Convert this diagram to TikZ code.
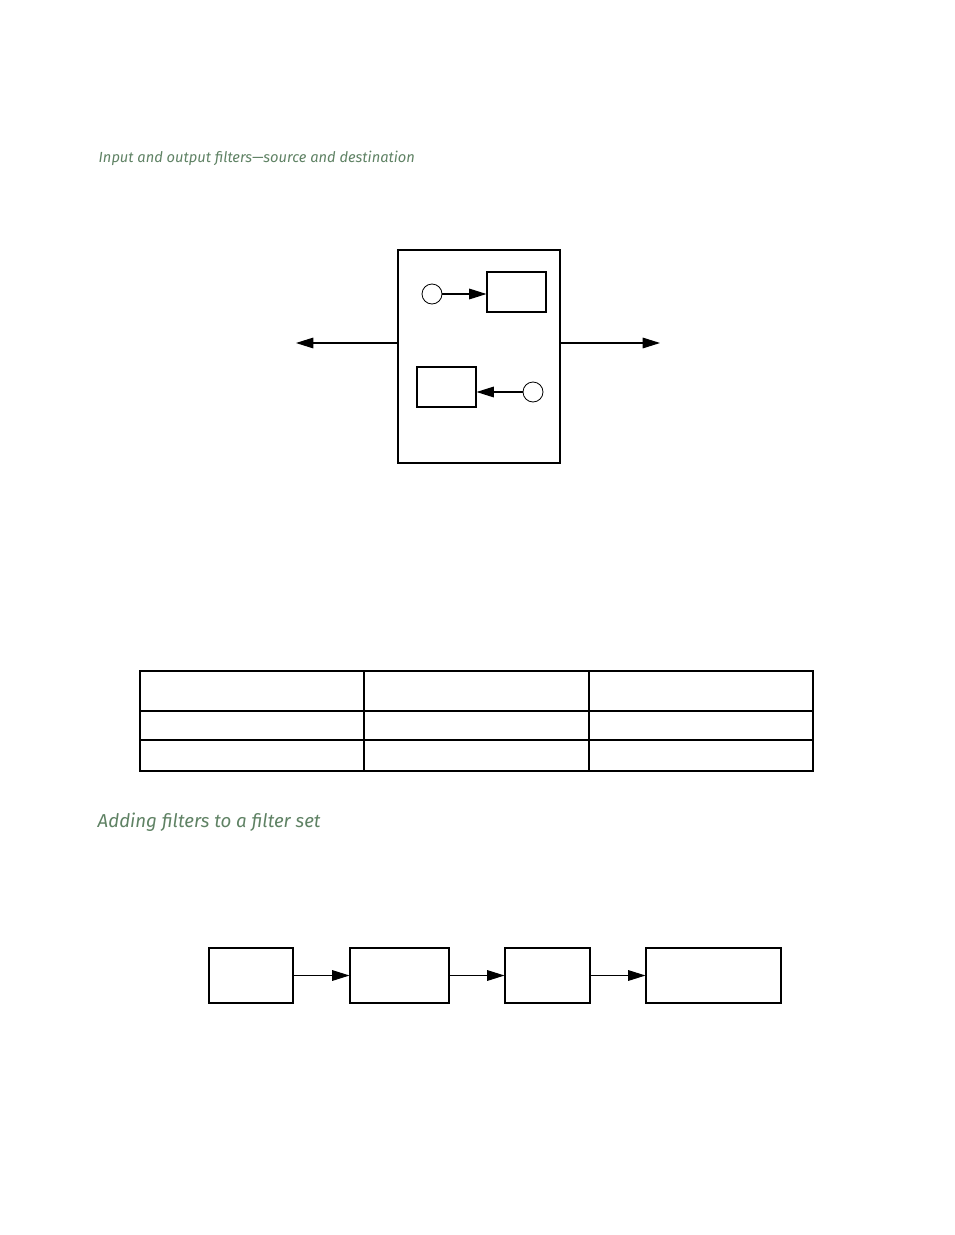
\documentclass[tikz,border=0pt]{standalone}
\usepackage{fontspec}
\setmainfont{Fira Sans}
\usetikzlibrary{arrows.meta}
\definecolor{hd}{RGB}{95,130,100}
\begin{document}
\begin{tikzpicture}[x=0.75pt,y=-0.75pt,
  bx/.style={draw,thick,line width=0.8pt,inner sep=0},
  cir/.style={draw,circle,line width=0.6pt,minimum size=15pt,inner sep=0},
  ar/.style={line width=0.8pt,-{Triangle[length=13pt,width=8pt]}},
  hdtxt/.style={anchor=west,text=hd,font=\itshape}]
\useasboundingbox (0,0) rectangle (954,1235);
\node[hdtxt,font=\itshape\fontsize{11}{13}\selectfont] (h1) at (94,158) {Input and output filters—source and destination};
\node[bx,minimum width=121.5pt,minimum height=159.75pt] (big) at (479,356.5) {};
\node[cir] (c1) at (432,294) {};
\node[bx,minimum width=44.25pt,minimum height=30pt] (b1) at (516.5,292) {};
\draw[ar] (c1) -- (c1 -| b1.west);
\node[bx,minimum width=44.25pt,minimum height=30pt] (b2) at (446.5,387) {};
\node[cir] (c2) at (533,392) {};
\draw[ar] (c2) -- (c2 -| b2.east);
\coordinate (lo) at (296,343);
\coordinate (ro) at (660,343);
\draw[ar] (big.west |- lo) -- (lo);
\draw[ar] (big.east |- ro) -- (ro);
% table
\node[bx,minimum width=504.75pt,minimum height=75pt] (tab) at (476.5,721) {};
\draw[line width=0.8pt] (140,711) -- (813,711) (140,740) -- (813,740) (364,671) -- (364,771) (589,671) -- (589,771);
\node[hdtxt,font=\itshape\fontsize{14}{16}\selectfont] (h2) at (93,822) {Adding filters to a filter set};
\node[bx,minimum width=63pt,minimum height=41.25pt] (A) at (251,975.5) {};
\node[bx,minimum width=74.25pt,minimum height=41.25pt] (B) at (399.5,975.5) {};
\node[bx,minimum width=63.75pt,minimum height=41.25pt] (C) at (547.5,975.5) {};
\node[bx,minimum width=101.25pt,minimum height=41.25pt] (D) at (713.5,975.5) {};
\draw[ar] (A) -- (B);
\draw[ar] (B) -- (C);
\draw[ar] (C) -- (D);
\end{tikzpicture}
\end{document}
